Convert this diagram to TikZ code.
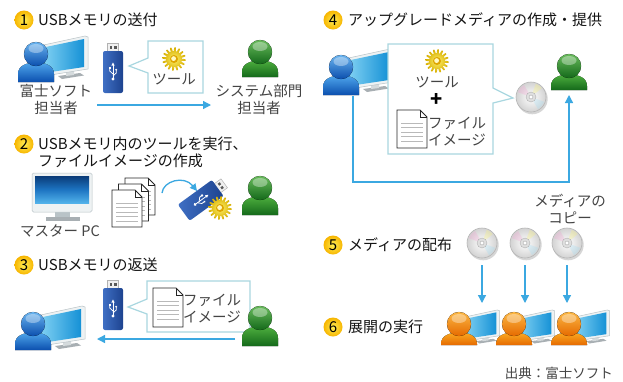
\documentclass[tikz,border=0pt]{standalone}
\usepackage{fontspec}
\setmainfont{Noto Sans CJK JP}
\usetikzlibrary{arrows.meta}

\definecolor{flowblue}{HTML}{3BA8E1}
\definecolor{bubbleline}{HTML}{A9D7E0}
\definecolor{labelgray}{HTML}{444444}
\definecolor{titleblack}{HTML}{141414}
\definecolor{badgein}{HTML}{FFEE55}
\definecolor{badgeout}{HTML}{F7B500}
\definecolor{bluelight}{HTML}{4FA6EC}
\definecolor{bluedark}{HTML}{0B4FAE}
\definecolor{greenlight}{HTML}{4DAE3E}
\definecolor{greendark}{HTML}{14691A}
\definecolor{orangelight}{HTML}{FBAA22}
\definecolor{orangedark}{HTML}{E56A00}
\definecolor{screenlight}{HTML}{86D4F4}
\definecolor{screendark}{HTML}{1591D6}
\definecolor{bezel}{HTML}{EEF2F3}
\definecolor{bezeledge}{HTML}{B9C3C7}
\definecolor{standgray}{HTML}{A8AFB3}
\definecolor{usblight}{HTML}{3F6FC4}
\definecolor{usbdark}{HTML}{1D438F}
\definecolor{gearlight}{HTML}{FFF06A}
\definecolor{geardark}{HTML}{D6AE00}
\definecolor{discedge}{HTML}{B5B5B5}
\definecolor{navyscreen}{HTML}{0A3B78}
\definecolor{midscreen}{HTML}{1D74C2}
\definecolor{lowscreen}{HTML}{52B2EA}

\tikzset{
  numbadge/.style={circle, minimum size=19pt, inner sep=0pt,
    inner color=badgein, outer color=badgeout, text=black,
    font=\fontsize{15}{15}\selectfont},
  stepttl/.style={anchor=west, inner sep=0pt, text=titleblack,
    font=\fontsize{15}{17}\selectfont},
  lbl/.style={inner sep=0pt, text=labelgray, align=center,
    font=\fontsize{14.5}{17}\selectfont},
  flow/.style={draw=flowblue, line width=1.3pt,
    -{Triangle[length=8pt,width=8pt]}},
  bubble/.style={draw=bubbleline, fill=white, line width=1.2pt},
}

% person silhouette: x, y (head centre), body bottom, light, dark
\newcommand\personfig[5]{%
  \begin{scope}[shift={(#1,#2)}]
    \fill[top color=#4, bottom color=#5] (-18,#3) -- (-18,20)
      .. controls (-18,12) and (-10,8.5) .. (0,8.5)
      .. controls (10,8.5) and (18,12) .. (18,20) -- (18,#3) -- cycle;
    \draw[#5!70!black, line width=0.4pt, opacity=0.5] (0,0) circle[radius=12];
    \fill[top color=#4!85!white, bottom color=#5] (0,0) circle[radius=12];
    \fill[white, opacity=0.35] (0,-5.5) ellipse[x radius=7.5, y radius=4.5];
  \end{scope}}

% person sitting in front of a monitor: x, y, monitor scale, body bottom, light, dark
\newcommand\deskuser[6]{%
  \begin{scope}[shift={(#1,#2)}]
    \begin{scope}[scale=#3]
      \fill[standgray] (22,22) -- (44,19) -- (48,21.5) -- (26,25) -- cycle;
      \fill[bezeledge!60] (30,17) -- (38,16) -- (38,21) -- (30,22) -- cycle;
      \filldraw[fill=bezel, draw=bezeledge, line width=0.5pt]
        (3,-8) -- (49,-18) -- (52,-17) -- (52,15) -- (8,22) -- cycle;
      \shade[left color=screenlight, right color=screendark]
        (5,-6) -- (48,-15) -- (48,13) -- (8,19) -- cycle;
    \end{scope}
  \end{scope}
  \personfig{#1}{#2}{#4}{#5}{#6}}

% USB stick, centred, drawn upright then turned
\newcommand\usbstick[3]{%
  \begin{scope}[shift={(#1,#2)}, rotate=#3]
    \filldraw[fill=gray!12, draw=gray!60, line width=0.5pt] (-5.5,-25) rectangle (5.5,-15);
    \fill[gray!70!black] (-3.5,-22) rectangle (-1,-19.5);
    \fill[gray!70!black] (1,-22) rectangle (3.5,-19.5);
    \shade[left color=usblight, right color=usbdark, rounded corners=2pt] (-10,-17) rectangle (10,25);
    \begin{scope}[white, line width=0.8pt]
      \draw (0,-3) -- (0,10);
      \fill (0,-5.5) -- (-1.6,-2.5) -- (1.6,-2.5) -- cycle;
      \fill (0,11) circle[radius=1.6];
      \draw (0,6) -- (-3.2,3) -- (-3.2,0.5);
      \fill (-4.2,-0.8) rectangle (-2.2,1);
      \draw (0,8) -- (3.2,5) -- (3.2,2.5);
      \fill (3.2,1.8) circle[radius=1.1];
    \end{scope}
  \end{scope}}

% toothed wheel
\newcommand\gearicon[2]{%
  \begin{scope}[shift={(#1,#2)}]
    \shade[inner color=gearlight, outer color=geardark]
      plot[domain=0:360, samples=161] (\x:{9.8+1.9*max(-1,min(1,2.2*sin(16*\x)))}) -- cycle;
    \fill[geardark!80!orange] (0,0) circle[radius=4];
    \fill[gearlight!40!white] (-0.4,-0.4) circle[radius=2.4];
  \end{scope}}

% optical disc
\newcommand\discicon[2]{%
  \begin{scope}[shift={(#1,#2)}]
    \fill[black, opacity=0.16] (1.2,1.8) circle[radius=15.5];
    \shade[inner color=white, outer color=discedge!60] (0,0) circle[radius=15];
    \fill[magenta!40, opacity=0.25] (0,0) -- (200:14) arc[start angle=200, end angle=240, radius=14] -- cycle;
    \fill[cyan!40, opacity=0.25] (0,0) -- (20:14) arc[start angle=20, end angle=60, radius=14] -- cycle;
    \fill[yellow!60, opacity=0.25] (0,0) -- (290:14) arc[start angle=290, end angle=320, radius=14] -- cycle;
    \draw[discedge, line width=0.6pt] (0,0) circle[radius=15];
    \filldraw[fill=gray!25, draw=gray!60, line width=0.4pt] (0,0) circle[radius=5];
    \filldraw[fill=white, draw=gray!70, line width=0.4pt] (0,0) circle[radius=2];
  \end{scope}}

% sheet of paper with a folded corner: x0, y0, width, height
\newcommand\docpage[4]{%
  \filldraw[fill=white, draw=black!85, line width=0.8pt]
    (#1,#2) -- ++({#3-7},0) -- ++(7,7) -- ++(0,{#4-7}) -- ++({-#3},0) -- cycle;
  \draw[black!85, line width=0.6pt] ({#1+#3-7},#2) -- ++(0,7) -- ++(7,0);
  \foreach \yy in {13,17.5,...,35}
    \draw[gray!55, line width=0.6pt] ({#1+4},{#2+\yy}) -- ++({#3-8},0);}

\begin{document}
\begin{tikzpicture}[x=1pt, y=-1pt]
\useasboundingbox (0,0) rectangle (623,381);
\fill[white] (0,0) rectangle (623,381);

%% step 1
\node[numbadge] (n1) at (24,20) {1};
\node[stepttl] (t1) at (38,20) {USBメモリの送付};
\deskuser{36}{54}{1}{28}{bluelight}{bluedark}
\node[lbl] (sender1) at (56,99.5) {富士ソフト\\担当者};
\usbstick{113}{68}{0}
\draw[bubble] (148,41) -- (203,41) -- (203,93) -- (148,93) -- (148,73) -- (129,66) -- (148,58) -- cycle;
\gearicon{174}{59}
\node[lbl] (tool1) at (174,79) {ツール};
\personfig{260}{52}{25}{greenlight}{greendark}
\node[lbl] (recv1) at (259,99.5) {システム部門\\担当者};
\coordinate (a1s) at (97,105);
\coordinate (a1e) at (211,105);
\draw[flow] (a1s) -- (a1e);

%% step 2
\node[numbadge] (n2) at (24,144) {2};
\node[stepttl] (t2a) at (38,144) {USBメモリ内のツールを実行、};
\node[stepttl] (t2b) at (38,161) {ファイルイメージの作成};
% master PC
\fill[standgray] (46,217) rectangle (80,221);
\fill[bezeledge] (55,212) rectangle (70,217);
\filldraw[fill=bezel, draw=bezeledge, line width=0.5pt, rounded corners=1.5pt] (32,173) rectangle (92,212);
\shade[top color=navyscreen, bottom color=lowscreen, middle color=midscreen] (35,176) rectangle (89,203);
\node[lbl] (master) at (60,231) {マスター PC};
\docpage{125}{178}{30}{37}
\docpage{118.5}{184}{30}{37}
\docpage{112}{190}{30}{37}
\coordinate (a2s) at (162,193);
\coordinate (a2e) at (197,191);
\draw[draw=flowblue, line width=1.3pt, -{Triangle[length=7pt,width=7pt]}]
  (a2s) .. controls (163,181) and (184,175) .. (a2e);
\usbstick{204}{198}{-54}
\gearicon{220}{208}
\personfig{260}{188}{27}{greenlight}{greendark}

%% step 3
\node[numbadge] (n3) at (24,265) {3};
\node[stepttl] (t3) at (38,265) {USBメモリの返送};
\usbstick{113}{305}{0}
\draw[bubble] (147,281) -- (250,281) -- (250,332) -- (147,332) -- (147,314) -- (128,307) -- (147,299) -- cycle;
\docpage{153}{288}{30}{39}
\node[lbl] (img3) at (212,309) {ファイル\\イメージ};
\deskuser{33}{324}{1}{26}{bluelight}{bluedark}
\personfig{260}{318}{28}{greenlight}{greendark}
\coordinate (a3s) at (235,339);
\coordinate (a3e) at (97,339);
\draw[flow] (a3s) -- (a3e);

%% step 4
\node[numbadge] (n4) at (333,20) {4};
\node[stepttl] (t4) at (348,20) {アップグレードメディアの作成・提供};
\deskuser{341}{67}{1}{28}{bluelight}{bluedark}
\draw[bubble] (388,44) -- (493,44) -- (493,88) -- (513,98) -- (493,103) -- (493,154) -- (388,154) -- cycle;
\gearicon{437}{61}
\node[lbl] (tool4) at (437,82) {ツール};
\node[inner sep=0pt, text=black, font=\fontsize{20}{20}\selectfont\bfseries] (plus4) at (437,100) {+};
\docpage{397}{110}{30}{38}
\node[lbl] (img4) at (457,131.5) {ファイル\\イメージ};
\discicon{531}{97}
\personfig{569}{66}{24}{greenlight}{greendark}
\coordinate (a4s) at (353,96);
\coordinate (a4m) at (353,182);
\coordinate (a4e) at (569,95);
\draw[flow] (a4s) -- (a4m) -| (a4e);

%% step 5
\node[lbl] (copies) at (570,208.5) {メディアの\\コピー};
\node[numbadge] (n5) at (333,245) {5};
\node[stepttl] (t5) at (348,245) {メディアの配布};
\foreach \cx [count=\i] in {482,525,567} {
  \discicon{\cx}{243}
  \coordinate (d\i) at (\cx,265);
  \coordinate (u\i) at (\cx,303);
  \draw[flow] (d\i) -- (u\i);
}

%% step 6
\node[numbadge] (n6) at (333,327) {6};
\node[stepttl] (t6) at (348,327) {展開の実行};
\foreach \cx in {459,514,569}
  \deskuser{\cx}{324}{0.78}{21}{orangelight}{orangedark};

\node[inner sep=0pt, anchor=east, text=labelgray, font=\fontsize{13.5}{15}\selectfont] (credit) at (613,373) {出典：富士ソフト};
\end{tikzpicture}
\end{document}
